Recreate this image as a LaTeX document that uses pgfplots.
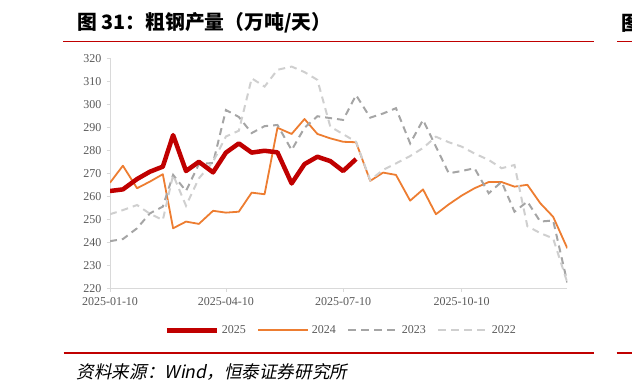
\documentclass[border=0pt]{standalone}
\usepackage{pgfplots}
\pgfplotsset{compat=1.18}
\usepackage{pgfplotstable}
\usepackage{fontspec}
\setmainfont{Liberation Serif}
\newfontfamily\cjk{Noto Sans CJK SC}
\newfontfamily\cjkit[FakeSlant=0.2]{Noto Sans CJK SC}
\definecolor{c25}{HTML}{C00000}
\definecolor{c24}{HTML}{ED7D31}
\definecolor{c23}{HTML}{A5A5A5}
\definecolor{c22}{HTML}{CFCFCF}
\definecolor{axgray}{HTML}{D9D9D9}
\definecolor{lblgray}{HTML}{595959}
\definecolor{hred}{HTML}{C00000}

\pgfplotstableread{
d v
0 262.3
10 263.0
21 267.5
31 270.7
41 272.9
49 286.6
59 271.0
69 275.0
80 270.4
90 279.0
100 283.0
110 279.0
120 279.8
130 279.1
141 265.6
151 274.0
161 277.2
171 275.3
181 271.0
191 276.2
}\tA

\pgfplotstableread{
d v
0 265.9
10 273.3
21 263.5
31 266.4
41 269.6
49 246.1
59 249.0
69 248.0
80 253.7
90 252.9
100 253.3
110 261.6
120 260.9
130 289.8
141 287.1
151 293.6
161 287.1
171 285.2
181 283.7
191 283.5
202 266.7
212 270.3
222 269.3
233 258.1
243 263.0
253 252.2
263 256.5
273 260.3
283 263.5
294 266.2
304 266.2
314 264.2
324 265.0
334 257.0
344 251.1
355 237.4
}\tB

\pgfplotstableread{
d v
0 240.5
10 241.4
21 246.1
31 252.6
41 255.5
49 269.3
59 262.3
69 274.0
80 274.5
90 297.5
100 294.5
110 287.5
120 290.5
130 291.0
141 280.1
151 289.8
161 294.8
171 294.0
181 293.2
191 304.0
202 294.2
212 296.0
222 298.3
233 283.0
243 293.2
253 281.6
263 270.0
273 271.0
283 272.2
294 261.3
304 266.3
314 253.3
324 257.7
334 249.0
344 249.5
355 222.5
}\tC

\pgfplotstableread{
d v
0 252.2
10 254.0
21 256.2
31 252.4
41 249.7
49 269.3
59 255.9
69 267.8
80 275.0
90 286.0
100 288.5
110 311.3
120 307.7
130 315.0
141 316.4
151 314.0
161 310.6
171 290.3
181 287.0
191 283.7
202 267.0
212 271.5
222 274.3
233 277.5
243 281.0
253 285.9
263 283.5
273 281.6
283 278.6
294 275.8
304 272.2
314 273.6
324 247.0
334 244.0
344 241.7
355 222.5
}\tD

\begin{document}
\begin{tikzpicture}[x=1pt,y=1pt]
\useasboundingbox (0,0) rectangle (632,386);
% header
\node[anchor=west,inner sep=0] at (77,363) {\fontsize{19.8}{21}\selectfont\cjk\bfseries 图 31：粗钢产量（万吨/天）};
\node[anchor=west,inner sep=0] at (621,363) {\fontsize{19.8}{21}\selectfont\cjk\bfseries 图};
\draw[hred,line width=1.2pt] (63.3,344.5) -- (593.5,344.5);
\draw[hred,line width=1.2pt] (617,344.5) -- (632,344.5);
\draw[hred,line width=1.2pt] (63.6,33) -- (593.6,33);
\draw[hred,line width=1.2pt] (616.6,33) -- (632,33);
\node[anchor=west,inner sep=0] at (76.4,14) {\fontsize{17.6}{19}\selectfont\cjkit 资料来源：Wind，恒泰证券研究所};

\begin{axis}[
  at={(110pt,97.7pt)}, anchor=south west,
  scale only axis, width=457.3pt, height=230pt,
  xmin=0, xmax=355, ymin=220, ymax=320,
  axis x line*=bottom, axis y line*=left,
  axis line style={draw=axgray,line width=1pt},
  xtick={0,90,181,273},
  xticklabels={2025-01-10,2025-04-10,2025-07-10,2025-10-10},
  ytick={220,230,...,320},
  tick align=outside, major tick length=3.5pt,
  tick style={draw=axgray,line width=0.8pt},
  /pgf/number format/assume math mode=true,
  ticklabel style={font=\fontsize{12}{14}\selectfont, text=lblgray},
  yticklabel style={xshift=-1.5pt},
  xticklabel style={yshift=-2pt},
  legend style={at={(0.506,-0.183)}, anchor=center, draw=none, fill=none,
    font=\fontsize{12}{14}\selectfont, text=lblgray, legend columns=4,
    /tikz/every even column/.append style={column sep=9pt},
    nodes={inner sep=2.5pt}},
  legend image code/.code={\draw[#1] (0pt,0pt) -- (50pt,0pt);},
]
\addlegendimage{c25,line width=5pt}
\addlegendentry{2025}
\addlegendimage{c24,line width=1.8pt}
\addlegendentry{2024}
\addlegendimage{c23,line width=2pt,dash pattern=on 8pt off 5pt}
\addlegendentry{2023}
\addlegendimage{c22,line width=2pt,dash pattern=on 8pt off 5pt}
\addlegendentry{2022}
\addplot[forget plot,c24,line width=1.8pt,line join=round] table[x=d,y=v]{\tB};
\addplot[forget plot,c23,line width=2pt,dash pattern=on 7pt off 5pt] table[x=d,y=v]{\tC};
\addplot[forget plot,c22,line width=2pt,dash pattern=on 7pt off 5pt] table[x=d,y=v]{\tD};
\addplot[forget plot,c25,line width=4.5pt,line join=round] table[x=d,y=v]{\tA};
\end{axis}
\end{tikzpicture}
\end{document}
